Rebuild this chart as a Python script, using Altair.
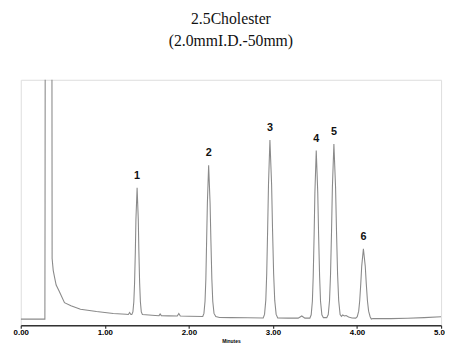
import altair as alt
import pandas as pd

# ---- text ----
title_lines = ["2.5Cholester", "(2.0mmI.D.-50mm)"]
x_ticks = [0, 1, 2, 3, 4, 5]
x_title = "Minutes"

# ---- chromatogram trace (time in minutes, detector signal in arbitrary units) ----
solvent_t = [0.0, 0.287, 0.289, 0.292, 0.330, 0.369, 0.371, 0.373, 0.386, 0.404, 0.421,
             0.456, 0.520, 0.597, 0.710, 0.901, 1.100, 1.252]
solvent_s = [0.3, 0.3, 120, 400, 700, 400, 250, 62, 50, 42, 35,
             29, 17, 14, 10.3, 8, 6, 5.3]

base_a_t = [1.280, 1.295, 1.310]
base_a_s = [5.0, 7.0, 5.0]

peak1_t = [1.321, 1.334, 1.345, 1.354, 1.363, 1.370, 1.384, 1.398, 1.405, 1.414, 1.423, 1.434, 1.447]
peak1_s = [5, 7.6, 17.9, 37.3, 69.5, 101.8, 134, 101.8, 69.5, 37.3, 17.9, 7.6, 5]

base_b_t = [1.486, 1.600, 1.645, 1.658, 1.672, 1.760, 1.862, 1.880, 1.898, 2.000, 2.165]
base_b_s = [4.7, 4.0, 3.8, 5.5, 3.8, 3.6, 3.4, 6.0, 3.4, 3.2, 3.0]

peak2_t = [2.179, 2.192, 2.202, 2.211, 2.220, 2.235, 2.252, 2.262, 2.273, 2.284, 2.299, 2.320]
peak2_s = [6.1, 18.4, 41.5, 80, 118.5, 157, 118.5, 80, 41.5, 18.4, 6.1, 3.0]

base_c_t = [2.364, 2.500, 2.700, 2.884]
base_c_s = [2.0, 1.8, 1.6, 1.5]

peak3_t = [2.900, 2.915, 2.926, 2.937, 2.947, 2.964, 2.984, 2.995, 3.008, 3.021, 3.038, 3.057]
peak3_s = [5.1, 19.6, 46.8, 92.1, 137.4, 182.7, 137.4, 92.1, 46.8, 19.6, 5.1, 1.5]

base_d_t = [3.180, 3.300, 3.343, 3.380, 3.439]
base_d_s = [1.3, 1.3, 3.5, 1.3, 1.3]

peak4_t = [3.455, 3.469, 3.479, 3.490, 3.499, 3.515, 3.533, 3.543, 3.555, 3.566, 3.582, 3.600]
peak4_s = [4.7, 18.4, 44, 86.7, 129.3, 172, 129.3, 86.7, 44, 18.4, 4.7, 1.8]

peak5_t = [3.640, 3.658, 3.673, 3.685, 3.697, 3.707, 3.725, 3.745, 3.756, 3.769, 3.782, 3.799]
peak5_s = [1.8, 5.0, 19.2, 45.8, 90.1, 134.4, 178.7, 134.4, 90.1, 45.8, 19.2, 5.0]

base_e_t = [3.815, 3.830, 3.850, 3.870, 3.900, 3.940, 3.985]
base_e_s = [3.0, 4.5, 3.5, 4.0, 2.5, 1.5, 1.3]

peak6_t = [4.003, 4.020, 4.032, 4.045, 4.056, 4.076, 4.098, 4.110, 4.124, 4.138, 4.156]
peak6_s = [2.7, 8.4, 19, 36.7, 54.3, 72, 54.3, 36.7, 19, 8.4, 2.7]

base_f_t = [4.170, 4.190, 4.400, 4.600, 4.800, 5.000]
base_f_s = [0.3, 1.0, 0.8, 1.2, 1.8, 2.7]

# ---- peak labels ----
peak_ids = ["1", "2", "3", "4", "5", "6"]
peak_times = [1.384, 2.235, 2.964, 3.515, 3.725, 4.076]
peak_heights = [134, 157, 182.7, 172, 178.7, 72]

times = (solvent_t + base_a_t + peak1_t + base_b_t + peak2_t + base_c_t + peak3_t
         + base_d_t + peak4_t + peak5_t + base_e_t + peak6_t + base_f_t)
signals = (solvent_s + base_a_s + peak1_s + base_b_s + peak2_s + base_c_s + peak3_s
           + base_d_s + peak4_s + peak5_s + base_e_s + peak6_s + base_f_s)

trace = pd.DataFrame({"t": times, "s": signals, "i": list(range(len(times)))})
labels = pd.DataFrame({"id": peak_ids, "t": peak_times, "s": peak_heights})

x_scale = alt.Scale(domain=[0, 5], nice=False, zero=False)
y_scale = alt.Scale(domain=[-6, 244], nice=False, zero=False)

x_axis = alt.Axis(
    values=x_ticks, format=".2f", grid=False,
    labelFont="Liberation Sans", labelFontWeight="bold", labelFontSize=8,
    labelColor="#000000", labelFlush=False, labelOverlap=False, labelPadding=0,
    tickSize=3, tickColor="#333333", tickWidth=1.2,
    domainColor="#333333", domainWidth=1.5,
    title=x_title, titleFont="Liberation Sans", titleFontSize=5,
    titleFontWeight="bold", titleColor="#000000", titlePadding=3,
)

line = alt.Chart(trace).mark_line(
    clip=True, color="#8a8a8a", strokeWidth=1.1, interpolate="linear"
).encode(
    x=alt.X("t:Q", scale=x_scale, axis=x_axis),
    y=alt.Y("s:Q", scale=y_scale, axis=None),
    order="i:Q",
)

text = alt.Chart(labels).mark_text(
    font="Liberation Sans", fontWeight="bold", fontSize=11, color="#111111",
    dy=-12, baseline="middle", align="center",
).encode(
    x=alt.X("t:Q", scale=x_scale),
    y=alt.Y("s:Q", scale=y_scale),
    text="id:N",
)

chart = alt.layer(line, text).properties(
    width=428,
    height=250,
    autosize=alt.AutoSizeParams(type="none"),
    padding={"left": 13, "top": 70, "right": 4, "bottom": 19},
    title=alt.TitleParams(
        text=title_lines, font="Liberation Serif", fontSize=16,
        fontWeight="normal", color="#111111", anchor="middle",
        lineHeight=23, offset=31,
    ),
).configure_view(strokeWidth=0).configure(background="white")

chart.save("out.html", embed_options={"renderer": "svg", "actions": False})
